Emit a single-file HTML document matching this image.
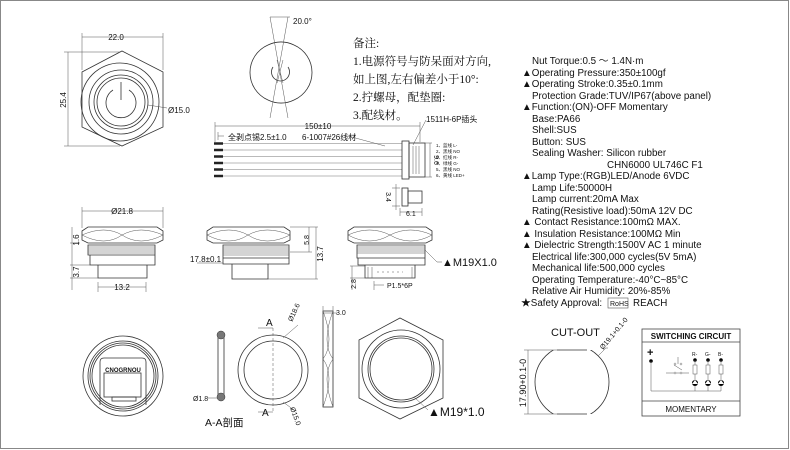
<!DOCTYPE html>
<html><head><meta charset="utf-8"><style>
html,body{margin:0;padding:0;background:#fff}
svg{display:block}
text{font-family:"Liberation Sans","Noto Sans CJK SC",sans-serif;fill:#111}
.s{fill:none;stroke:#333;stroke-width:0.8}
.t{fill:none;stroke:#555;stroke-width:0.5}
.n{font-family:"Liberation Serif","Noto Serif CJK SC",serif;font-size:11.5px}
</style></head><body>
<svg width="790" height="450" viewBox="0 0 790 450">
<rect x="0.5" y="0.5" width="788" height="448" fill="#fff" stroke="#888" stroke-width="1"/>

<!-- Front hex view -->
<polygon class="s" points="82,72 122,51 163,72 163,127 122,146 82,127"/>
<circle class="s" cx="120" cy="102" r="39"/>
<circle class="s" cx="121" cy="102" r="32"/>
<circle class="s" cx="121" cy="102" r="27"/>
<circle class="s" cx="121" cy="102" r="24"/>
<path class="s" d="M113,90 A15,15 0 1 0 129,90" stroke-width="1.6"/>
<path class="s" d="M121,82 V100" stroke-width="1.6"/>
<path class="t" d="M82,37 H163 M82,33 V70 M163,33 V70 M64,52 H120 M64,146 H120 M68,52 V146 M148,105 L167,108"/>
<text x="116" y="40" font-size="8" text-anchor="middle">22.0</text>
<text x="66" y="100" font-size="8" transform="rotate(-90 66 100)" text-anchor="middle">25.4</text>
<text x="168" y="113" font-size="8">Ø15.0</text>

<!-- Top small view -->
<path class="s" d="M268,45 A29,29 0 0 1 294,45 A30,30 0 0 1 294,100 A29,29 0 0 1 268,100 A30,30 0 0 1 268,45 Z"/>
<path class="s" d="M273,67 A9,9 0 1 0 288,67"/>
<path class="t" d="M270,17 L288,118 M288,17 L270,118 M270,17 H290 M277,60 L283,83 M283,60 L277,83"/>
<text x="293" y="24" font-size="8">20.0°</text>

<!-- Notes -->
<text class="n" x="353" y="47">备注:</text>
<text class="n" x="353" y="65">1.电源符号与防呆面对方向,</text>
<text class="n" x="353" y="83">如上图,左右偏差小于10°:</text>
<text class="n" x="353" y="101">2.拧螺母，配垫圈:</text>
<text class="n" x="353" y="119">3.配线材。</text>

<!-- Cable -->
<path class="t" d="M215,126 H420 M215,122 V142 M420,122 V142 M218,136 H224 M218,132 V140"/>
<text x="318" y="129" font-size="8" text-anchor="middle">150±10</text>
<text x="228" y="140" font-size="8">全剥点锡2.5±1.0</text>
<text x="302" y="140" font-size="8">6-1007#26线材</text>
<path class="t" d="M348,136 L385,146 M413,145 L426,120"/>
<text x="426" y="122" font-size="8">1511H-6P插头</text>
<g stroke="#222" stroke-width="2.5">
<path d="M214,143.5 H223 M214,150 H223 M214,156.5 H223 M214,163 H223 M214,169.5 H223 M214,176 H223"/>
</g>
<g stroke="#777" stroke-width="0.6">
<path d="M223,143.5 H402 M223,150 H402 M223,156.5 H402 M223,163 H402 M223,169.5 H402 M223,176 H402"/>
</g>
<rect class="s" x="402" y="141" width="7" height="38"/>
<rect class="s" x="409" y="143" width="16" height="34"/>
<path class="t" d="M413,146 V174 M416,146 V174 M419,146 V174 M425,143 H432 M425,177 H432 M430,143 V177"/>
<text x="434" y="160" font-size="7" transform="rotate(90 434 160)" text-anchor="middle">9.6</text>
<g font-size="4.5" fill="#444">
<text x="436" y="147">1、蓝线 L-</text><text x="436" y="153">2、黑线 NO</text><text x="436" y="159">3、红线 R-</text>
<text x="436" y="165">4、绿线 G-</text><text x="436" y="171">5、黑线 NO</text><text x="436" y="177">6、黄线 LED+</text>
</g>
<rect class="s" x="402" y="188" width="6" height="18"/>
<rect class="s" x="408" y="191" width="14" height="12"/>
<path class="t" d="M392,188 H400 M392,206 H400 M396,184 V210 M400,212 H422 M400,208 V216 M422,208 V216"/>
<text x="386" y="197" font-size="7" transform="rotate(90 386 197)" text-anchor="middle">3.4</text>
<text x="406" y="216" font-size="7">6.1</text>

<!-- Side view 1 -->
<path class="t" d="M82,211 H163 M82,207 V228 M163,207 V228"/>
<text x="122" y="214" font-size="8" text-anchor="middle">Ø21.8</text>
<path class="s" d="M82,231 L88,227 H157 L163,231 V240 L157,243 H88 L82,240 Z"/>
<path class="t" d="M82,235 Q105,225 122,235 Q140,225 163,235 M82,235 Q105,247 122,235 Q140,247 163,235"/>
<path class="s" d="M88,245 H155 V255 H88 Z M90,255 V265 H155 V255 M98,265 V278 H147 V265"/>
<path class="t" d="M88,247 H155 M88,249 H155 M88,251 H155 M88,253 H155"/>
<path class="t" d="M72,227 V290 M70,243 H80 M70,265 H90 M70,278 H98 M98,287 H146 M98,282 V292 M146,282 V292"/>
<text x="79" y="240" font-size="8" transform="rotate(-90 79 240)" text-anchor="middle">1.6</text>
<text x="79" y="272" font-size="8" transform="rotate(-90 79 272)" text-anchor="middle">3.7</text>
<text x="122" y="290" font-size="8" text-anchor="middle">13.2</text>

<!-- Side view 2 -->
<path class="s" d="M207,231 L213,227 H284 L290,231 V240 L284,243 H213 L207,240 Z"/>
<path class="t" d="M207,235 Q230,225 248,235 Q266,225 290,235 M207,235 Q230,247 248,235 Q266,247 290,235"/>
<path class="s" d="M223,245 H289 V258 H223 Z M223,258 V264 H289 V258 M232,264 V279 H268 V264"/>
<path class="t" d="M223,247 H289 M223,249 H289 M223,251 H289 M223,253 H289 M223,255 H289"/>
<path class="t" d="M290,227 H318 M290,252 H312 M268,279 H318 M309,227 V252 M316,227 V279 M197,263 H223"/>
<text x="309" y="240" font-size="7" transform="rotate(-90 309 240)" text-anchor="middle">5.8</text>
<text x="317" y="254" font-size="8" transform="rotate(-90 317 254)" text-anchor="middle" dy="6">13.7</text>
<text x="190" y="262" font-size="8">17.8±0.1</text>

<!-- Side view 3 -->
<path class="s" d="M348,231 L354,227 H426 L432,231 V240 L426,243 H354 L348,240 Z"/>
<path class="t" d="M348,235 Q370,225 390,235 Q410,225 432,235 M348,235 Q370,247 390,235 Q410,247 432,235"/>
<path class="s" d="M357,245 H425 V258 H357 Z M358,258 V265 H425 V258 M365,265 V278 H415 V265"/>
<path class="t" d="M357,247 H425 M357,249 H425 M357,251 H425 M357,253 H425 M368,267 V278 M372,267 V278 M412,267 V278"/>
<path class="t" d="M377,272 H403" stroke-dasharray="2,3"/>
<path class="t" d="M425,250 L437,262 H442 M352,266 V290 M350,266 H365 M350,278 H365 M374,285 H384 M374,281 V290"/>
<text x="442" y="266" font-size="11">▲M19X1.0</text>
<text x="356" y="284" font-size="7" transform="rotate(-90 356 284)" text-anchor="middle">2.8</text>
<text x="387" y="288" font-size="7">P1.5*6P</text>

<!-- Rear view -->
<circle class="s" cx="123" cy="376" r="40"/>
<circle class="s" cx="123" cy="376" r="35"/>
<circle class="s" cx="123" cy="376" r="33"/>
<circle class="s" cx="123" cy="376" r="31"/>
<path class="s" d="M100,405 V362 Q100,358 104,358 H142 Q146,358 146,362 V405"/>
<rect class="s" x="104" y="373" width="37" height="24"/>
<rect class="s" x="112" y="397" width="24" height="4"/>
<text x="123" y="372" font-size="6" font-weight="bold" text-anchor="middle">CNOGRNOU</text>

<!-- O-ring -->
<path class="s" d="M218,335 V397 M224,335 V397"/>
<circle cx="221" cy="335" r="4" fill="#777" stroke="#333" stroke-width="0.5"/>
<circle cx="221" cy="397" r="4" fill="#777" stroke="#333" stroke-width="0.5"/>
<path class="t" d="M208,398 H217"/>
<text x="193" y="401" font-size="7">Ø1.8</text>
<text x="205" y="426" font-size="10.5">A-A剖面</text>

<!-- Ring -->
<circle class="s" cx="273" cy="370" r="35"/>
<circle class="s" cx="273" cy="370" r="29"/>
<path class="t" d="M273,328 V412" stroke-dasharray="3,2"/>
<path class="t" d="M258,328 H273 M258,412 H273 M283,338 L298,325 M283,402 L294,410"/>
<text x="266" y="326" font-size="10">A</text>
<text x="262" y="416" font-size="10">A</text>
<text x="292" y="322" font-size="7" transform="rotate(-65 292 322)">Ø18.6</text>
<text x="290" y="408" font-size="7" transform="rotate(70 290 408)">Ø15.0</text>

<!-- Washer side -->
<rect class="s" x="323" y="311" width="10" height="96"/>
<path class="t" d="M323,311 Q335,343 323,359 Q335,375 323,407 M333,311 Q321,343 333,359 Q321,375 333,407 M323,306 V313 M333,306 V313 M323,313 H337"/>
<text x="336" y="315" font-size="7">3.0</text>

<!-- Nut -->
<polygon class="s" points="359,340 400,318 443,340 443,398 400,419 359,398"/>
<circle class="s" cx="401" cy="369" r="39"/>
<circle class="s" cx="401" cy="369" r="33"/>
<circle class="s" cx="401" cy="369" r="31"/>
<path class="t" d="M414,397 L428,410"/>
<text x="428" y="416" font-size="12">▲M19*1.0</text>

<!-- Spec text -->
<g font-size="9.8">
<text x="532" y="64">Nut Torque:0.5 ～ 1.4N·m</text>
<text x="522" y="76">▲Operating Pressure:350±100gf</text>
<text x="522" y="87">▲Operating Stroke:0.35±0.1mm</text>
<text x="532" y="99">Protection Grade:TUV/IP67(above panel)</text>
<text x="522" y="110">▲Function:(ON)-OFF  Momentary</text>
<text x="532" y="122">Base:PA66</text>
<text x="532" y="133">Shell:SUS</text>
<text x="532" y="145">Button: SUS</text>
<text x="532" y="156">Sealing Washer: Silicon rubber</text>
<text x="607" y="168">CHN6000 UL746C F1</text>
<text x="522" y="179">▲Lamp Type:(RGB)LED/Anode 6VDC</text>
<text x="532" y="191">Lamp Life:50000H</text>
<text x="532" y="202">Lamp current:20mA Max</text>
<text x="532" y="214">Rating(Resistive load):50mA 12V DC</text>
<text x="522" y="225">▲ Contact Resistance:100mΩ MAX.</text>
<text x="522" y="237">▲ Insulation Resistance:100MΩ Min</text>
<text x="522" y="248">▲ Dielectric Strength:1500V AC 1 minute</text>
<text x="532" y="260">Electrical life:300,000 cycles(5V 5mA)</text>
<text x="532" y="271">Mechanical life:500,000 cycles</text>
<text x="532" y="283">Operating Temperature:-40°C~85°C</text>
<text x="532" y="294">Relative Air Humidity: 20%-85%</text>
<text x="521" y="306">★Safety Approval:</text>
<text x="610" y="306" font-size="7">RoHS</text>
<text x="633" y="306">REACH</text>
</g>
<rect x="608" y="298" width="20" height="10" fill="none" stroke="#555" stroke-width="0.6"/>

<!-- Cut-out -->
<text x="551" y="336" font-size="11">CUT-OUT</text>
<clipPath id="co"><rect x="530" y="350" width="90" height="64"/></clipPath>
<circle class="s" cx="572" cy="382" r="37" clip-path="url(#co)"/>
<path class="s" d="M557,350 H587 M557,414 H587"/>
<path class="t" d="M524,350 H560 M524,414 H560 M528,350 V414 M598,356 L606,348 H608"/>
<text x="526" y="383" font-size="9" transform="rotate(-90 526 383)" text-anchor="middle">17.90+0.1-0</text>
<text x="603" y="350" font-size="7" transform="rotate(-50 603 350)">Ø19.1+0.1-0</text>

<!-- Switching circuit -->
<rect x="642" y="329" width="98" height="87" fill="none" stroke="#444" stroke-width="0.8"/>
<path d="M642,342 H740 M642,401 H740" stroke="#444" stroke-width="0.8"/>
<text x="691" y="339" font-size="8" font-weight="bold" text-anchor="middle">SWITCHING CIRCUIT</text>
<text x="691" y="412" font-size="8" text-anchor="middle">MOMENTARY</text>
<text x="647" y="356" font-size="11" font-weight="bold">+</text>
<g fill="#000">
<circle cx="651" cy="361" r="1.8"/><circle cx="695" cy="360" r="1.8"/><circle cx="708" cy="360" r="1.8"/><circle cx="721" cy="360" r="1.8"/>
<circle cx="695" cy="383" r="3"/><circle cx="708" cy="383" r="3"/><circle cx="721" cy="383" r="3"/>
</g>
<g fill="#fff"><path d="M692,384 L695,380 L698,384 Z M705,384 L708,380 L711,384 Z M718,384 L721,380 L724,384 Z"/></g>
<path class="t" d="M651,361 V391 H721 M695,391 V386 M708,391 V386 M721,391 V386 M695,360 V380 M708,360 V380 M721,360 V380 M666,373 H689 M678,357 V364 M674,365 L682,370"/>
<circle cx="675" cy="364" r="1" fill="none" stroke="#555" stroke-width="0.4"/>
<circle cx="681" cy="364" r="1" fill="none" stroke="#555" stroke-width="0.4"/>
<circle cx="675" cy="373" r="1" fill="#fff" stroke="#555" stroke-width="0.4"/>
<circle cx="681" cy="373" r="1" fill="#fff" stroke="#555" stroke-width="0.4"/>
<rect x="693" y="365" width="4" height="9" fill="#fff" stroke="#555" stroke-width="0.5"/>
<rect x="706" y="365" width="4" height="9" fill="#fff" stroke="#555" stroke-width="0.5"/>
<rect x="719" y="365" width="4" height="9" fill="#fff" stroke="#555" stroke-width="0.5"/>
<text x="692" y="356" font-size="5">R-</text><text x="705" y="356" font-size="5">G-</text><text x="718" y="356" font-size="5">B-</text>
</svg>
</body></html>
